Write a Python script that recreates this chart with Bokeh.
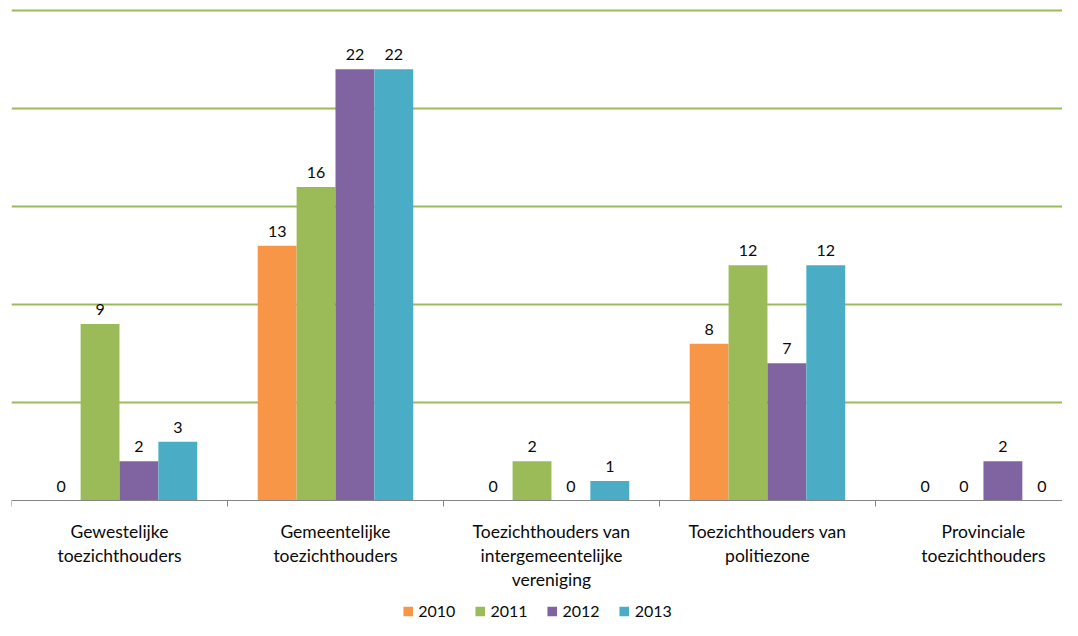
from bokeh.plotting import figure
from bokeh.models import (ColumnDataSource, Range1d, FixedTicker, Legend, LegendItem)
from bokeh.embed import file_html
from bokeh.resources import INLINE
from bokeh.core.properties import value

categories = ["Gewestelijke\ntoezichthouders",
              "Gemeentelijke\ntoezichthouders",
              "Toezichthouders van\nintergemeentelijke\nvereniging",
              "Toezichthouders van\npolitiezone",
              "Provinciale\ntoezichthouders"]
years = ["2010", "2011", "2012", "2013"]
v2010 = [0, 13, 0, 8, 0]
v2011 = [9, 16, 2, 12, 0]
v2012 = [2, 22, 0, 7, 2]
v2013 = [3, 22, 1, 12, 0]
series = [v2010, v2011, v2012, v2013]
colors = ["#F79646", "#9BBB59", "#8064A2", "#4BACC6"]
grid_ticks = [5, 10, 15, 20, 25]

FONT = "Lato"
TXT = "#0a0a0a"
bar_w = 0.18

p = figure(width=1062, height=620, output_backend="svg", toolbar_location=None,
           x_range=Range1d(0, 4.866), y_range=Range1d(-6.12, 25.1),
           min_border_left=11, min_border_right=0, min_border_top=8,
           min_border_bottom=0)
p.outline_line_color = None
p.yaxis.visible = False
p.xgrid.visible = False
p.ygrid.ticker = FixedTicker(ticks=grid_ticks)
p.ygrid.grid_line_color = "#9BBB59"
p.ygrid.grid_line_width = 2

centers = [i + 0.5 for i in range(len(categories))]
items = []
for k, (yr, vals, col) in enumerate(zip(years, series, colors)):
    off = (k - 1.5) * bar_w
    src = ColumnDataSource(dict(x=[c + off for c in centers], top=vals,
                                lab=[str(v) for v in vals]))
    r = p.vbar(x="x", top="top", width=bar_w, source=src, fill_color=col,
               line_color=None)
    p.text(x="x", y="top", text="lab", source=src, text_align="center",
           text_baseline="bottom", y_offset=-9, text_font=value(FONT),
           text_font_size="16px", text_color=TXT)
    items.append(LegendItem(label=yr, renderers=[r]))

ax = p.xaxis[0]
ax.fixed_location = 0
ax.ticker = FixedTicker(ticks=centers, minor_ticks=list(range(len(categories) + 1)))
ax.major_label_overrides = {c: lab for c, lab in zip(centers, categories)}
ax.major_tick_out = 0
ax.major_tick_in = 0
ax.minor_tick_out = 6
ax.minor_tick_in = 0
ax.minor_tick_line_color = "#868686"
ax.axis_line_color = "#868686"
ax.axis_line_width = 1
ax.major_label_text_font = FONT
ax.major_label_text_font_size = "17.5px"
ax.major_label_text_color = TXT
ax.major_label_text_line_height = 1.15
ax.major_label_standoff = 14

legend = Legend(items=items, orientation="horizontal", location="bottom_center",
                border_line_color=None, background_fill_alpha=0,
                glyph_width=12, glyph_height=12, label_standoff=5, spacing=18,
                label_text_font=FONT, label_text_font_size="16px",
                label_text_color=TXT, padding=2, margin=0)
p.add_layout(legend)

open("out.html", "w").write(file_html(p, INLINE))
